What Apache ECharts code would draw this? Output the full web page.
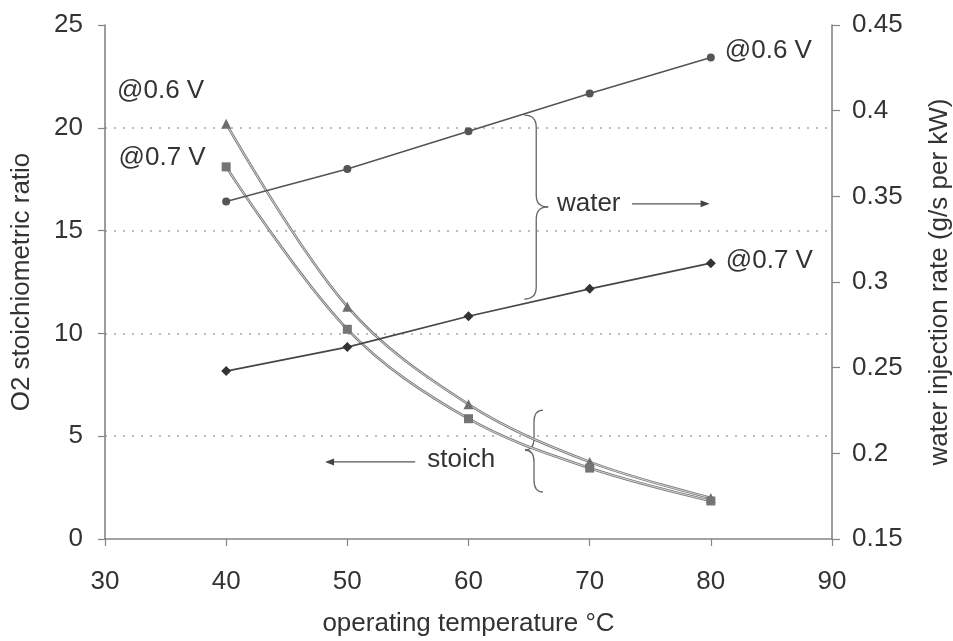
<!DOCTYPE html>
<html>
<head>
<meta charset="utf-8">
<title>O2 stoichiometric ratio and water injection rate vs operating temperature</title>
<script src="https://cdn.jsdelivr.net/npm/echarts@6/dist/echarts.min.js"></script>
<style>
  html, body { margin: 0; padding: 0; background: #ffffff; }
  #chart { width: 953px; height: 641px; }
</style>
</head>
<body>
<div id="chart"></div>
<script>
// Operating temperatures (°C)
const temperatures = [40, 50, 60, 70, 80];

// Water injection rate, g/s per kW (right axis)
const waterAt06V = [0.347, 0.366, 0.388, 0.410, 0.431];
const waterAt07V = [0.248, 0.262, 0.280, 0.296, 0.311];

// O2 stoichiometric ratio (left axis)
const stoichAt06V = [20.2, 11.3, 6.55, 3.75, 2.0];
const stoichAt07V = [18.1, 10.2, 5.85, 3.45, 1.85];

// Axis tick values
const temperatureTicks = [30, 40, 50, 60, 70, 80, 90];
const ratioTicks = [0, 5, 10, 15, 20, 25];
const waterTicks = [0.15, 0.2, 0.25, 0.3, 0.35, 0.4, 0.45];

const FONT = 'Liberation Sans, Arial, Helvetica, sans-serif';
const TEXT = '#333333';
const AXIS = '#858585';
const FS = 26;

const pairs = (vals) => temperatures.map((t, i) => [t, vals[i]]);

// attach a text label to one point of a series
function withLabel(vals, index, text, labelOpts) {
  return pairs(vals).map((p, i) => i === index
    ? { value: p, label: Object.assign({ show: true, formatter: text, fontFamily: FONT, fontSize: FS, color: TEXT, opacity: 1 }, labelOpts) }
    : p);
}

const chart = echarts.init(document.getElementById('chart'), null, { renderer: 'canvas' });

const step = (ticks) => +(ticks[1] - ticks[0]).toFixed(6);

const stoichLine = (vals) => [
  {
    type: 'line', yAxisIndex: 0, data: pairs(vals), smooth: 0.35,
    showSymbol: false, silent: true, z: 2,
    lineStyle: { color: '#7a7a7a', width: 2.6 }
  },
  {
    type: 'line', yAxisIndex: 0, data: pairs(vals), smooth: 0.35,
    showSymbol: false, silent: true, z: 2,
    lineStyle: { color: '#e2e2e2', width: 0.9 }
  }
];

const option = {
  animation: false,
  backgroundColor: '#ffffff',
  textStyle: { fontFamily: FONT },
  grid: { left: 105, right: 121, top: 25, bottom: 102, containLabel: false, outerBoundsMode: 'none' },
  xAxis: {
    type: 'value',
    min: temperatureTicks[0],
    max: temperatureTicks[temperatureTicks.length - 1],
    interval: step(temperatureTicks),
    name: 'operating temperature °C',
    nameLocation: 'middle',
    nameGap: 72,
    nameTextStyle: { fontFamily: FONT, fontSize: FS, color: TEXT },
    axisLine: { onZero: false, lineStyle: { color: AXIS, width: 1.6 } },
    axisTick: { show: true, length: 7, lineStyle: { color: AXIS, width: 1.2 } },
    axisLabel: { fontFamily: FONT, fontSize: FS, color: TEXT, margin: 30 },
    splitLine: { show: false }
  },
  yAxis: [
    {
      type: 'value',
      position: 'left',
      min: ratioTicks[0],
      max: ratioTicks[ratioTicks.length - 1],
      interval: step(ratioTicks),
      name: 'O2 stoichiometric ratio',
      nameLocation: 'middle',
      nameRotate: 90,
      nameGap: 70,
      nameTextStyle: { fontFamily: FONT, fontSize: FS, color: TEXT },
      axisLine: { show: true, lineStyle: { color: AXIS, width: 1.6 } },
      axisTick: { show: true, length: 7, lineStyle: { color: AXIS, width: 1.2 } },
      axisLabel: { fontFamily: FONT, fontSize: FS, color: TEXT, margin: 22 },
      splitLine: {
        show: true, showMinLine: false, showMaxLine: false,
        lineStyle: { color: '#a8a8a8', width: 1.5, type: [2, 7] }
      }
    },
    {
      type: 'value',
      position: 'right',
      min: waterTicks[0],
      max: waterTicks[waterTicks.length - 1],
      interval: step(waterTicks),
      name: 'water injection rate (g/s per kW)',
      nameLocation: 'middle',
      nameRotate: 90,
      nameGap: 95,
      nameTextStyle: { fontFamily: FONT, fontSize: FS, color: TEXT },
      axisLine: { show: true, lineStyle: { color: AXIS, width: 1.6 } },
      axisTick: { show: true, length: 8, lineStyle: { color: AXIS, width: 1.2 } },
      axisLabel: { fontFamily: FONT, fontSize: FS, color: TEXT, margin: 20 },
      splitLine: { show: false }
    }
  ],
  series: [
    // stoichiometric ratio curves, drawn as a hollow double stroke
    ...stoichLine(stoichAt06V),
    ...stoichLine(stoichAt07V),
    {
      type: 'scatter', yAxisIndex: 0, z: 3, silent: true,
      symbol: 'triangle', symbolSize: 10,
      itemStyle: { color: '#6e6e6e', opacity: 1 },
      data: withLabel(stoichAt06V, 0, '@0.6 V', { position: 'left', distance: 17, offset: [0, -33] })
    },
    {
      type: 'scatter', yAxisIndex: 0, z: 3, silent: true,
      symbol: 'rect', symbolSize: 9,
      itemStyle: { color: '#747474', opacity: 1 },
      data: withLabel(stoichAt07V, 0, '@0.7 V', { position: 'left', distance: 16, offset: [0, -9] })
    },
    // water injection rate lines
    {
      type: 'line', yAxisIndex: 1, z: 4, silent: true,
      symbol: 'circle', symbolSize: 8,
      lineStyle: { color: '#555555', width: 1.6 },
      itemStyle: { color: '#555555' },
      data: withLabel(waterAt06V, 4, '@0.6 V', { position: 'right', distance: 10, offset: [0, -7] })
    },
    {
      type: 'line', yAxisIndex: 1, z: 4, silent: true,
      symbol: 'diamond', symbolSize: 10,
      lineStyle: { color: '#474747', width: 1.6 },
      itemStyle: { color: '#333333' },
      data: withLabel(waterAt07V, 4, '@0.7 V', { position: 'right', distance: 10, offset: [0, -2] })
    }
  ]
};

chart.setOption(option);

// ---- braces, captions and arrows, anchored in (temperature, ratio) coordinates ----
const px = (t, r) => chart.convertToPixel({ xAxisIndex: 0, yAxisIndex: 0 }, [t, r]);
const STROKE = { stroke: '#666', lineWidth: 1.3, fill: null };

// curly brace: starts at x0, bulges by w (positive = points right)
function brace(x0, yTop, yBot, yTip, w) {
  const xv = x0 + w / 2, xt = x0 + w, r = 12;
  const q = (x1, y1, cx, cy, x2, y2) => ({
    type: 'bezierCurve', silent: true,
    shape: { x1, y1, cpx1: cx, cpy1: cy, x2, y2 }, style: STROKE
  });
  const seg = (x1, y1, x2, y2) => ({
    type: 'line', silent: true, shape: { x1, y1, x2, y2 }, style: STROKE
  });
  return [
    q(x0, yTop, xv, yTop, xv, yTop + r),
    seg(xv, yTop + r, xv, yTip - r),
    q(xv, yTip - r, xv, yTip, xt, yTip),
    q(xt, yTip, xv, yTip, xv, yTip + r),
    seg(xv, yTip + r, xv, yBot - r),
    q(xv, yBot - r, xv, yBot, x0, yBot)
  ];
}

function arrow(fromT, toT, r) {
  const a = px(fromT, r), b = px(toT, r);
  const dir = Math.sign(b[0] - a[0]);
  const head = 9, half = 3.5;
  return [
    { type: 'line', silent: true, shape: { x1: a[0], y1: a[1], x2: b[0] - dir * head * 0.6, y2: b[1] },
      style: { stroke: '#555', lineWidth: 1.3 } },
    { type: 'polygon', silent: true,
      shape: { points: [[b[0], b[1]], [b[0] - dir * head, b[1] - half], [b[0] - dir * head, b[1] + half]] },
      style: { fill: '#444' } }
  ];
}

function caption(text, t, r, align) {
  const p = px(t, r);
  return { type: 'text', x: p[0], y: p[1], silent: true,
    style: { text, fontFamily: FONT, fontSize: FS, fill: TEXT, textAlign: align, textVerticalAlign: 'middle' } };
}

const wTop = px(64.6, 20.62), wBot = px(64.6, 11.67), wTip = px(64.6, 16.15);
const sTop = px(66.15, 6.27), sBot = px(66.15, 2.29), sTip = px(66.15, 4.33);

chart.setOption({
  graphic: [
    ...brace(wTop[0], wTop[1], wBot[1], wTip[1], 24),
    ...brace(sTop[0], sTop[1], sBot[1], sTip[1], -18),
    caption('water', 67.3, 16.3, 'left'),
    ...arrow(73.5, 79.9, 16.3),
    caption('stoich', 56.6, 3.84, 'left'),
    ...arrow(55.6, 48.16, 3.75)
  ]
});
</script>
</body>
</html>
